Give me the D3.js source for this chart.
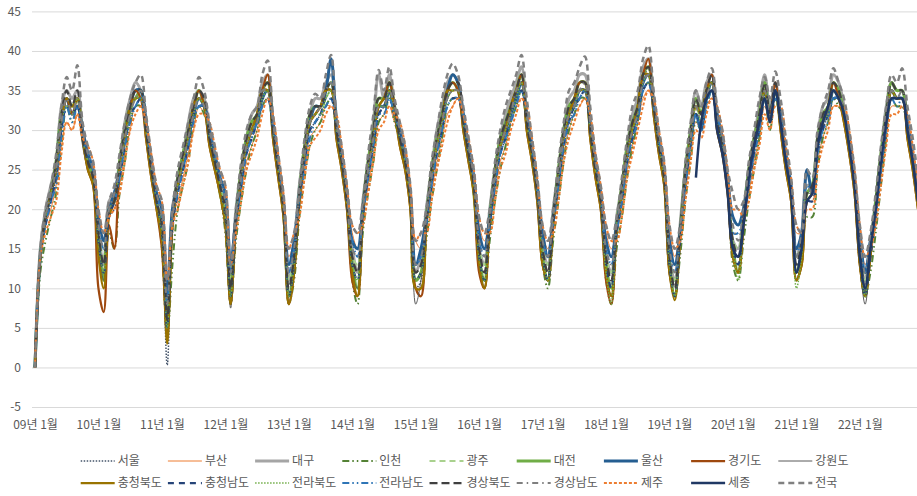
<!DOCTYPE html>
<html>
<head>
<meta charset="utf-8">
<script src="https://cdn.jsdelivr.net/npm/d3@7"></script>
<style>
  body { margin: 0; background: #fff; }
  svg { display: block; font-family: "Noto Sans CJK KR", "Noto Sans", sans-serif; }
</style>
</head>
<body>
<svg id="chart" width="917" height="496"></svg>
<script>
// month categories, 09년 1월 .. 22년 12월
var years = ['09','10','11','12','13','14','15','16','17','18','19','20','21','22'];
var categories = [];
years.forEach(function(y){ for (var m = 1; m <= 12; m++) categories.push(y + '년 ' + m + '월'); });
var yTicks = [-5, 0, 5, 10, 15, 20, 25, 30, 35, 40, 45];

// one row per year
var seoul = [
  0,13,18,21,24,30,34,32,34,29,25,23,
  15,11,19,20,24,28,32,34,34,29,24,20,
  16,0.3,17,22,25,28,32,34,33,28,25,22,
  18,8,17,23,27,29,31,34,35,29,24,19,
  8,12,21,26,30,31,32,34,35,29,25,20,
  12,10,19,24,28,32,33,35,32,28,25,20,
  10,11,18,23,27,30,34,35,35,30,26,22,
  13,10,18,23,27,29,32,34,36,30,26,21,
  13,11,18,23,28,31,33,35,35,29,24,20,
  12,9,17,21,26,29,32,36,38,32,27,23,
  12,9,16,23,28,32,31,34,36,30,27,22,
  14,12,18,23,27,30,35,31,35,30,25,21,
  11,14,21,21,27,30,32,35,34,31,27,22,
  13,9,14,19,25,30,35,34,34,29,25,20];
var busan = [
  0,15,18,20,23,28,31,30,32,29,27,25,
  19,16,20,20,23,27,30,33,33,31,26,22,
  20,10,19,21,24,27,30,33,32,30,27,24,
  22,13,18,22,26,28,30,33,34,31,26,21,
  14,16,20,25,29,30,31,33,33,31,27,22,
  17,15,19,23,27,31,32,33,31,30,27,22,
  16,15,18,22,26,29,32,33,34,31,28,24,
  18,16,18,22,26,28,31,33,34,32,28,23,
  17,15,18,22,27,30,32,33,34,31,26,22,
  17,15,17,20,25,28,31,34,35,33,29,25,
  17,14,17,22,27,31,30,33,34,32,29,24,
  19,18,19,22,26,29,33,31,34,32,27,23,
  17,17,21,21,26,29,31,33,33,32,29,24,
  18,13,15,19,24,29,33,33,33,31,27,22];
var daegu = [
  0,15,20,23,26,33,35,34,35,30,27,24,
  17,13,21,22,26,31,34,36,35,31,25,21,
  18,6,20,24,27,31,34,35,34,30,26,23,
  20,11,20,25,29,32,33,36,37,31,25,21,
  11,15,23,28,32,34,34,36,37,31,26,21,
  15,12,21,26,31,37,34,37,33,30,26,21,
  12,14,20,25,30,33,36,37,36,32,27,23,
  15,13,20,25,29,32,34,36,38,32,27,22,
  15,13,20,25,30,34,35,37,37,31,25,21,
  14,12,19,23,28,32,34,38,39,34,28,24,
  14,11,18,25,30,35,33,36,37,32,28,23,
  16,15,20,25,29,33,37,33,36,32,26,22,
  14,17,23,23,29,33,34,37,36,33,28,23,
  15,11,16,21,27,33,36,35,35,31,26,21];
var incheon = [
  0,12,16,19,22,28,33,31,33,29,26,24,
  15,11,17,15,22,26,31,33,33,30,25,21,
  15,4,13,20,23,26,31,33,32,29,26,22,
  17,8,16,21,25,28,30,33,34,30,25,20,
  8,11,19,24,28,30,31,33,34,30,26,21,
  11,8,17,22,26,31,32,34,31,29,26,21,
  10,10,16,21,25,29,33,34,34,31,27,23,
  13,10,16,21,25,28,31,33,35,31,27,22,
  13,10,16,21,26,30,32,34,34,30,25,21,
  11,8,15,19,24,28,31,35,36,33,28,24,
  12,9,14,21,26,31,30,33,35,31,28,23,
  13,11,16,21,25,29,34,30,34,31,26,22,
  11,13,19,19,25,29,31,34,33,32,28,23,
  13,9,12,17,23,29,34,33,33,30,26,21];
var gwangju = [
  0,14,19,22,25,31,33,32,34,29,26,24,
  17,14,20,22,25,29,32,34,34,30,25,21,
  18,7,19,23,26,29,32,34,33,29,26,23,
  20,11,19,24,28,30,31,34,35,30,25,20,
  11,14,22,27,31,32,32,34,35,30,26,21,
  14,13,20,25,29,33,33,35,32,29,26,21,
  13,13,19,24,28,31,34,35,35,31,27,23,
  15,13,19,24,28,30,32,34,36,31,27,22,
  15,13,19,24,29,32,33,35,35,30,25,21,
  14,12,18,22,27,30,32,36,37,33,28,24,
  14,11,17,24,29,33,31,34,36,31,28,23,
  16,15,19,24,28,31,35,31,35,31,26,22,
  14,16,22,22,28,31,32,35,34,32,28,23,
  15,11,15,20,26,31,35,34,34,30,26,21];
var daejeon = [
  0,14,19,22,26,32,34,33,34,29,26,24,
  16,11,20,21,26,30,33,34,35,30,25,21,
  17,5,19,24,27,30,33,35,33,29,26,22,
  19,9,19,25,29,31,32,35,36,30,25,20,
  9,13,22,28,32,33,33,35,36,30,26,21,
  13,10,20,26,30,34,34,36,33,29,26,21,
  11,12,19,25,29,32,35,36,35,31,27,22,
  14,11,19,25,29,31,33,35,37,31,27,22,
  14,11,19,25,30,33,34,36,36,30,25,21,
  13,10,18,23,28,31,33,37,38,33,28,24,
  13,9,17,25,30,34,32,35,36,31,28,23,
  15,12,19,25,29,32,36,32,35,31,26,22,
  12,15,22,23,29,32,33,36,35,32,28,23,
  14,9,15,21,27,32,36,35,35,30,26,21];
var ulsan = [
  0,14,19,22,25,31,34,32,33,30,27,25,
  19,16,20,22,25,29,33,35,35,31,26,22,
  20,9,20,23,26,29,32,34,33,30,27,24,
  22,13,19,24,28,30,31,34,35,31,26,21,
  13,16,22,27,31,33,33,35,39,31,27,22,
  16,15,20,25,29,33,33,35,32,30,27,22,
  13,15,19,24,28,31,35,37,36,32,28,24,
  17,15,19,24,28,30,32,34,36,32,28,23,
  17,14,19,24,29,32,33,35,35,31,26,22,
  16,14,18,22,27,30,32,36,37,33,29,25,
  16,13,17,24,29,32,30,34,36,32,29,24,
  19,18,20,24,28,31,35,32,35,32,27,23,
  15,17,25,22,28,31,32,35,34,32,29,24,
  17,12,16,20,26,31,35,34,34,31,27,22];
var gyeonggi = [
  0,14,19,22,25,31,34,32,34,29,25,23,
  10,7,18,15,25,29,33,35,34,29,24,20,
  15,4,18,23,26,29,33,35,33,28,25,22,
  18,8,18,24,28,30,32,35,37,29,24,19,
  8,12,21,27,31,32,33,35,35,29,25,20,
  11,9,19,25,29,33,34,36,33,28,25,20,
  10,9,18,24,28,31,35,36,35,30,26,22,
  12,10,18,24,28,30,33,35,37,30,26,21,
  13,11,18,24,29,32,34,36,36,29,24,20,
  11,8,17,22,27,30,33,37,39,32,27,23,
  12,9,16,24,29,33,32,35,37,30,27,22,
  14,12,18,24,28,31,35,32,36,30,25,21,
  11,13,21,22,28,31,33,36,34,31,27,22,
  13,9,14,20,26,31,35,34,34,29,25,20];
var gangwon = [
  0,14,19,22,26,31,34,33,34,28,25,23,
  15,11,20,21,25,29,32,34,34,29,24,20,
  16,4,19,23,26,30,33,34,33,28,25,22,
  18,7.5,18,24,28,30,32,35,35,29,24,19,
  9,13,22,27,31,33,33,35,35,29,25,20,
  12,10,20,25,30,33,34,35,32,28,25,20,
  8,11,19,24,28,32,34,35,35,30,26,22,
  13,11,19,24,28,31,33,35,36,30,26,21,
  13,11,19,24,29,32,34,35,35,29,24,20,
  12,9,18,22,27,31,33,37,37,32,27,23,
  12,9,17,24,29,33,32,35,36,30,27,22,
  14,13,19,24,28,31,35,31,35,30,25,21,
  12,14,22,22,28,31,33,35,34,31,27,22,
  13,8,14,20,26,31,35,34,34,29,25,20];
var chungbuk = [
  0,14,19,22,25,31,34,33,34,29,25,23,
  14,10,19,21,25,29,33,34,34,29,24,20,
  16,3,18,23,26,29,33,34,33,28,25,22,
  18,8,18,24,28,30,32,35,35,29,24,19,
  8,12,21,27,31,32,33,35,35,29,25,20,
  12,9,19,25,29,33,34,35,32,28,25,20,
  10,10,18,24,28,31,35,35,35,30,26,22,
  13,10,18,24,28,30,33,35,36,30,26,21,
  13,11,18,24,29,32,34,35,35,29,24,20,
  12,9,17,22,27,30,33,37,37,32,27,23,
  12,8.5,16,24,29,33,32,35,36,30,27,22,
  14,12,18,24,28,31,35,31,35,30,25,21,
  11,13,21,22,28,31,33,35,34,31,27,22,
  13,9,14,20,26,31,35,34,34,29,25,20];
var chungnam = [
  0,14,18,21,24,30,33,32,33,29,26,24,
  16,12,19,21,24,28,32,33,34,30,25,21,
  17,5,18,22,25,28,32,33,33,29,26,23,
  19,9,18,23,27,29,31,34,34,30,25,20,
  9,13,21,26,30,31,32,34,34,30,26,21,
  13,11,19,24,28,32,33,34,32,29,26,21,
  11,12,18,23,27,30,34,34,34,31,27,23,
  14,11,18,23,27,29,32,34,35,31,27,22,
  14,11,18,23,28,31,33,34,35,30,25,21,
  13,10,17,21,26,29,32,35,36,33,28,24,
  13,9,16,23,28,32,31,34,35,31,28,23,
  15,13,18,23,27,30,34,31,35,31,26,22,
  12,15,21,21,27,30,32,34,34,32,28,23,
  14,9,14,19,25,30,34,34,34,30,26,21];
var jeonbuk = [
  0,14,19,22,25,31,33,32,34,29,26,24,
  16,12,20,21,25,29,32,34,34,30,25,21,
  17,5,19,23,26,29,32,34,33,29,26,23,
  19,9,19,24,28,30,31,34,35,30,25,20,
  9,13,22,27,31,32,32,34,35,30,26,21,
  13,11,20,25,29,33,33,35,32,29,26,21,
  11,12,19,24,28,31,34,35,35,31,27,23,
  14,11,19,24,28,30,32,34,36,31,27,22,
  14,11,19,24,29,32,33,35,35,30,25,21,
  12,8,18,22,27,30,32,36,37,33,28,24,
  13,9,17,24,29,33,31,34,36,31,28,23,
  15,11,19,24,28,31,35,31,35,31,26,22,
  10,14,22,22,28,31,32,35,34,32,28,23,
  14,9,15,20,26,31,35,34,34,30,26,21];
var jeonnam = [
  0,14,18,21,23,29,33,31,33,29,27,25,
  18,15,20,21,24,28,31,33,34,30,26,22,
  19,8,19,22,25,28,31,33,33,30,27,24,
  21,12,18,23,27,29,31,33,34,31,26,21,
  12,15,21,25,29,31,32,33,34,31,27,22,
  16,14,19,24,28,32,32,34,32,30,27,22,
  13,14,18,23,27,30,33,34,34,32,28,24,
  16,14,18,23,27,29,31,33,35,32,28,23,
  16,14,18,23,28,31,32,34,35,31,26,22,
  15,13,17,21,26,29,31,35,36,33,29,25,
  15,12,16,23,28,32,30,33,35,32,29,24,
  17,17,19,23,27,30,34,31,34,32,27,23,
  14,17,23,22,27,30,31,34,34,32,29,24,
  16,12,15,19,25,30,34,33,34,31,27,22];
var gyeongbuk = [
  0,14,19,22,26,32,35,33,35,29,26,24,
  17,13,20,21,26,30,33,35,35,30,25,21,
  18,6,19,24,27,30,33,35,34,29,26,23,
  20,10,19,25,29,31,32,35,36,30,25,20,
  10,14,22,28,32,33,33,35,36,30,26,21,
  14,12,20,26,30,34,34,36,33,29,26,21,
  12,13,19,25,29,32,35,36,36,31,27,23,
  15,12,19,25,29,31,33,35,37,31,27,22,
  15,12,19,25,30,33,34,36,36,30,25,21,
  14,11,18,23,28,31,33,37,38,33,28,24,
  14,10,17,25,30,34,32,35,37,31,28,23,
  16,14,19,25,29,32,36,32,36,31,26,22,
  13,16,22,23,29,32,33,36,35,32,28,23,
  15,10,15,21,27,32,36,35,35,30,26,21];
var gyeongnam = [
  0,14,19,22,25,31,34,32,34,30,27,25,
  18,15,20,22,25,29,32,34,35,31,26,22,
  19,8,19,23,26,29,32,34,33,30,27,24,
  21,12,19,24,28,30,31,35,35,31,26,21,
  12,15,22,27,31,32,33,35,36,31,27,22,
  15,14,20,25,29,33,33,35,33,30,27,22,
  13,14,19,24,28,31,34,35,35,32,28,24,
  16,14,19,24,28,30,32,35,36,32,28,23,
  16,14,19,24,29,32,33,35,36,31,26,22,
  15,13,18,22,27,30,32,36,37,34,29,25,
  15,12,17,24,29,33,31,34,36,32,29,24,
  18,16,20,24,28,31,35,32,35,32,27,23,
  14,17,23,22,28,31,32,35,34,33,29,24,
  16,12,16,20,26,31,35,34,35,31,27,22];
var jeju = [
  0,14,17,19,21,27,31,30,32,29,28,26,
  20,17,19,20,22,26,30,32,33,31,27,23,
  21,11,18,20,23,26,30,32,32,31,28,25,
  23,13,17,21,25,27,29,32,34,32,27,22,
  15,17,19,24,28,29,30,32,33,32,28,23,
  18,17,18,22,26,30,31,33,32,31,28,23,
  16,17,17,21,25,28,31,33,34,32,29,25,
  19,17,17,21,25,27,30,32,34,33,29,24,
  18,16,17,21,26,29,31,33,34,32,27,23,
  18,16,16,19,24,27,30,33,35,34,30,26,
  18,15,16,21,26,30,29,32,34,33,30,25,
  20,20,19,21,25,28,32,30,33,33,28,24,
  18,17,20,20,25,28,30,33,33,33,30,25,
  18,14,15,18,23,28,32,32,33,32,28,23];
// 세종: from 19년 6월
var sejongFrom = '19년 6월';
var sejong = [
  24,31,34,35,30,27,22,
  15,14,18,24,28,31,34,31,35,31,26,22,
  12,15,21,22,28,31,33,35,34,32,28,23,
  14,10,15,20,26,31,34,34,34,30,26,21];
var nation = [
  0,15,20,23,27,33,36.7,35,38.2,31,28,26,
  20,17,21,23,27,31,34,36,37,32,27,23,
  21,11,20,25,28,31,34,36.7,35,31,28,25,
  23,13,20,26,30,32,33,37,38.8,32,27,22,
  15,17,23,29,33,34.6,34,37,39.5,32,28,23,
  18,17,21,27,32,37.6,35,38,34,31,28,23,
  16,17,20,26,30,34,37,38.4,37,33,29,25,
  19,17,20,26,30,33,35,37,39.5,34,29,24,
  18,16,20,26,31,35,36,38,39.3,33,27,23,
  18,16,19,24,29,33,35,39,40.7,35,30,26,
  18,15,18,26,31,35,33,36,37.8,33,30,25,
  22,20,21,26,30,34,36.7,34,37.4,34,29,24,
  18,17,25,24,30,33,35,37.8,36,34,30,25,
  18,14,17,22,28,33,37,36,37.8,33,29,24];

var names = ['서울','부산','대구','인천','광주','대전','울산','경기도','강원도',
             '충청북도','충청남도','전라북도','전라남도','경상북도','경상남도','제주','세종','전국'];
var values = [seoul, busan, daegu, incheon, gwangju, daejeon, ulsan, gyeonggi, gangwon,
              chungbuk, chungnam, jeonbuk, jeonnam, gyeongbuk, gyeongnam, jeju, sejong, nation];

var styles = {
  '서울':   { color: '#44546A', width: 1.5,  dash: '1.5,1.5' },
  '부산':   { color: '#ED7D31', width: 1,    dash: null },
  '대구':   { color: '#A5A5A5', width: 3,    dash: null },
  '인천':   { color: '#548235', width: 2,    dash: '7,3,1.5,3,1.5,3' },
  '광주':   { color: '#A9D18E', width: 2,    dash: '6,4' },
  '대전':   { color: '#70AD47', width: 3,    dash: null },
  '울산':   { color: '#255E91', width: 3,    dash: null },
  '경기도': { color: '#9E480E', width: 2.25, dash: null },
  '강원도': { color: '#595959', width: 1,    dash: null },
  '충청북도': { color: '#997300', width: 2.25, dash: null },
  '충청남도': { color: '#264478', width: 2.25, dash: '6,5' },
  '전라북도': { color: '#70AD47', width: 1.5,  dash: '1.5,1.5' },
  '전라남도': { color: '#2E75B6', width: 2,    dash: '7,3,1.5,3,1.5,3' },
  '경상북도': { color: '#404040', width: 2.25, dash: '8,4' },
  '경상남도': { color: '#7F7F7F', width: 2,    dash: '6,4,1.5,4' },
  '제주':   { color: '#ED7D31', width: 2,    dash: '3,2' },
  '세종':   { color: '#203864', width: 2.5,  dash: null },
  '전국':   { color: '#808080', width: 2.5,  dash: '6,4' }
};

var series = names.map(function(n, i){
  var start = n === '세종' ? categories.indexOf(sejongFrom) : 0;
  return { name: n, style: styles[n],
           points: values[i].map(function(v, j){ return { c: categories[start + j], v: v }; }) };
});

var svg = d3.select('#chart');
var W = 917;
var x = d3.scalePoint().domain(categories).range([35, 918]);
var y = d3.scaleLinear().domain([-5, 45]).range([407, 11.4]);

// gridlines + y labels (plain hyphen minus like the original)
var yAxis = svg.append('g').attr('transform', 'translate(32,0)')
  .call(d3.axisLeft(y).tickValues(yTicks).tickSize(-(W - 32)).tickPadding(11)
    .tickFormat(function(d){ return String(d); }));
yAxis.select('.domain').remove();
yAxis.selectAll('line').attr('stroke', '#d9d9d9');
yAxis.selectAll('text').attr('fill', '#595959').style('font-size', '12px')
  .style('font-family', '"Noto Sans CJK KR", "Noto Sans", sans-serif');

// x labels every 12 months
var xAxis = svg.append('g').attr('transform', 'translate(0,407)')
  .call(d3.axisBottom(x).tickValues(categories.filter(function(c, i){ return i % 12 === 0; }))
    .tickSize(0).tickPadding(13));
xAxis.select('.domain').remove();
xAxis.selectAll('text').attr('fill', '#595959').style('font-size', '12px')
  .style('font-family', '"Noto Sans CJK KR", "Noto Sans", sans-serif');

var line = d3.line()
  .defined(function(d){ return d.v != null; })
  .x(function(d){ return x(d.c); })
  .y(function(d){ return y(d.v); })
  .curve(d3.curveCatmullRom.alpha(0.5));

svg.append('g').selectAll('path').data(series).enter().append('path')
  .attr('d', function(d){ return line(d.points); })
  .attr('fill', 'none')
  .attr('stroke', function(d){ return d.style.color; })
  .attr('stroke-width', function(d){ return d.style.width; })
  .attr('stroke-dasharray', function(d){ return d.style.dash; })
  .attr('stroke-linejoin', 'round');

// legend, 9 per row
var legend = svg.append('g').selectAll('g').data(series).enter().append('g')
  .attr('transform', function(d, i){
    return 'translate(' + (80.7 + 87.2 * (i % 9)) + ',' + (i < 9 ? 461 : 483) + ')';
  });
legend.append('line')
  .attr('x1', 0).attr('x2', 34).attr('y1', 0).attr('y2', 0)
  .attr('stroke', function(d){ return d.style.color; })
  .attr('stroke-width', function(d){ return d.style.width; })
  .attr('stroke-dasharray', function(d){ return d.style.dash; });
legend.append('text')
  .attr('x', 37).attr('y', 0).attr('dy', '0.35em')
  .attr('fill', '#595959').style('font-size', '12px')
  .text(function(d){ return d.name; });
</script>
</body>
</html>
